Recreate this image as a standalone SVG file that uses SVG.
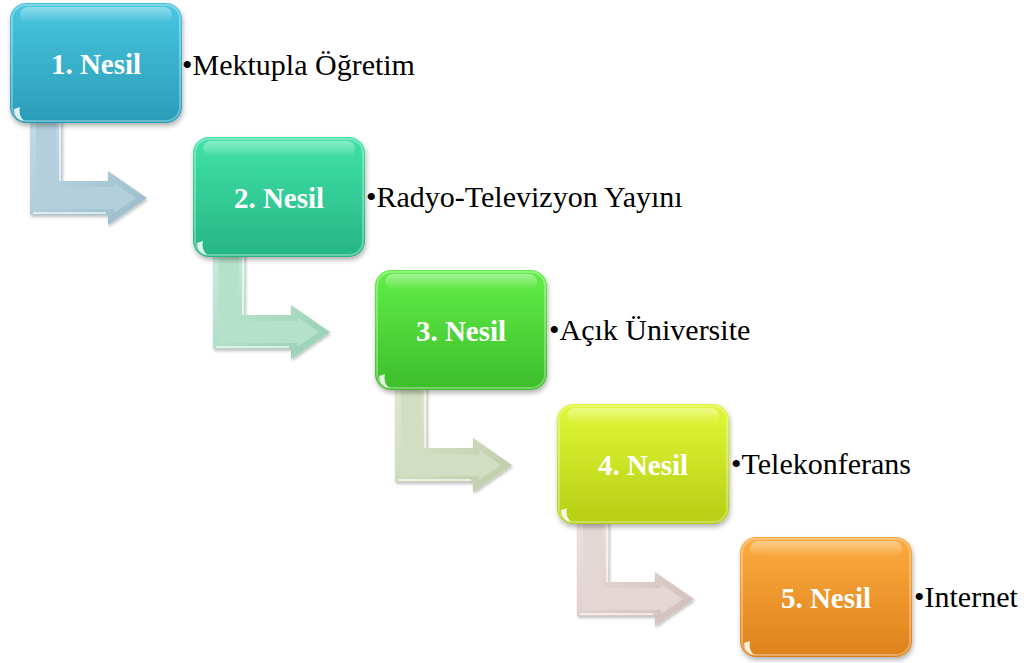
<svg xmlns="http://www.w3.org/2000/svg" width="1029" height="663" viewBox="0 0 1029 663">
  <style>
    .lbl { font-family: "Liberation Serif", "Times New Roman", serif; font-weight: bold; font-size: 29px; fill: #ffffff; text-anchor: middle; }
    .item { font-family: "Liberation Serif", "Times New Roman", serif; font-size: 30px; fill: #000000; }
    .gloss { fill: url(#gloss); }
    .rim { fill: none; stroke: #ffffff; stroke-opacity: 0.3; stroke-width: 2; }
    .glint { fill: #ffffff; opacity: 0.85; }
    .hl { stroke: #ffffff; stroke-width: 1.6; stroke-opacity: 0.8; fill: none; }
  </style>
  <defs>
    <filter id="shadow" x="-10%" y="-10%" width="125%" height="130%">
      <feDropShadow dx="1" dy="3" stdDeviation="2.5" flood-color="#000000" flood-opacity="0.3"/>
    </filter>
    <filter id="ashadow" x="-10%" y="-10%" width="125%" height="130%">
      <feDropShadow dx="1" dy="2" stdDeviation="1.5" flood-color="#000000" flood-opacity="0.25"/>
    </filter>
    <linearGradient id="gloss" x1="0" y1="0" x2="0" y2="1">
      <stop offset="0" stop-color="#ffffff" stop-opacity="0.4"/>
      <stop offset="1" stop-color="#ffffff" stop-opacity="0"/>
    </linearGradient>
    <linearGradient id="n1" x1="0" y1="0" x2="0" y2="1">
      <stop offset="0" stop-color="#48c6df"/>
      <stop offset="1" stop-color="#2b9cb8"/>
    </linearGradient>
    <linearGradient id="n2" x1="0" y1="0" x2="0" y2="1">
      <stop offset="0" stop-color="#40e2a8"/>
      <stop offset="1" stop-color="#26b584"/>
    </linearGradient>
    <linearGradient id="n3" x1="0" y1="0" x2="0" y2="1">
      <stop offset="0" stop-color="#62ee48"/>
      <stop offset="1" stop-color="#3cbe2a"/>
    </linearGradient>
    <linearGradient id="n4" x1="0" y1="0" x2="0" y2="1">
      <stop offset="0" stop-color="#e0f836"/>
      <stop offset="1" stop-color="#b6ce14"/>
    </linearGradient>
    <linearGradient id="n5" x1="0" y1="0" x2="0" y2="1">
      <stop offset="0" stop-color="#fbab3e"/>
      <stop offset="1" stop-color="#de821c"/>
    </linearGradient>
    <linearGradient id="a1" x1="0" y1="0" x2="1" y2="1">
      <stop offset="0" stop-color="#c4dce6"/>
      <stop offset="1" stop-color="#98bccb"/>
    </linearGradient>
    <linearGradient id="a2" x1="0" y1="0" x2="1" y2="1">
      <stop offset="0" stop-color="#c8ecd9"/>
      <stop offset="1" stop-color="#95ceb0"/>
    </linearGradient>
    <linearGradient id="a3" x1="0" y1="0" x2="1" y2="1">
      <stop offset="0" stop-color="#e0e9d2"/>
      <stop offset="1" stop-color="#bccca6"/>
    </linearGradient>
    <linearGradient id="a4" x1="0" y1="0" x2="1" y2="1">
      <stop offset="0" stop-color="#eee2df"/>
      <stop offset="1" stop-color="#cfbcb8"/>
    </linearGradient>
    <!-- bent arrow, origin at the top-left of the node above it -->
    <path id="bend" d="M20,116 L52,116 L52,178 L98,178 L98,168 L137,195 L98,222 L98,212 L20,212 Z"/>
    <path id="bendIn" d="M26,116 L46,116 L46,184 L104,184 L104,180 L126,195 L104,210 L104,206 L26,206 Z"/>
  </defs>

  <!-- connectors -->
  <g id="connectors">
    <g transform="translate(10,3)">
      <use href="#bend" fill="url(#a1)" filter="url(#ashadow)"/>
      <use href="#bendIn" fill="#b2cfdb"/>
      <path class="hl" d="M23,210 L96,210 M50,118 L50,178"/>
    </g>
    <g transform="translate(193,137)">
      <use href="#bend" fill="url(#a2)" filter="url(#ashadow)"/>
      <use href="#bendIn" fill="#b5e0c9"/>
      <path class="hl" d="M23,210 L96,210 M50,118 L50,178"/>
    </g>
    <g transform="translate(375,270)">
      <use href="#bend" fill="url(#a3)" filter="url(#ashadow)"/>
      <use href="#bendIn" fill="#d2dec1"/>
      <path class="hl" d="M23,210 L96,210 M50,118 L50,178"/>
    </g>
    <g transform="translate(557,404)">
      <use href="#bend" fill="url(#a4)" filter="url(#ashadow)"/>
      <use href="#bendIn" fill="#e4d7d3"/>
      <path class="hl" d="M23,210 L96,210 M50,118 L50,178"/>
    </g>
  </g>

  <!-- nodes -->
  <g id="node1" transform="translate(10,3)">
    <rect width="172" height="120" rx="16" fill="url(#n1)" filter="url(#shadow)"/>
    <rect x="2" y="2" width="168" height="116" rx="14" class="rim"/>
    <rect x="10" y="4" width="152" height="16" rx="8" class="gloss"/>
    <path class="glint" d="M4,106 Q4,116 14,118 Q8,112 10,104 Z"/>
    <text class="lbl" x="86" y="71">1. Nesil</text>
  </g>
  <text class="item" x="182" y="75">•Mektupla Öğretim</text>

  <g id="node2" transform="translate(193,137)">
    <rect width="172" height="120" rx="16" fill="url(#n2)" filter="url(#shadow)"/>
    <rect x="2" y="2" width="168" height="116" rx="14" class="rim"/>
    <rect x="10" y="4" width="152" height="16" rx="8" class="gloss"/>
    <path class="glint" d="M4,106 Q4,116 14,118 Q8,112 10,104 Z"/>
    <text class="lbl" x="86" y="71">2. Nesil</text>
  </g>
  <text class="item" x="366" y="207">•Radyo-Televizyon Yayını</text>

  <g id="node3" transform="translate(375,270)">
    <rect width="172" height="120" rx="16" fill="url(#n3)" filter="url(#shadow)"/>
    <rect x="2" y="2" width="168" height="116" rx="14" class="rim"/>
    <rect x="10" y="4" width="152" height="16" rx="8" class="gloss"/>
    <path class="glint" d="M4,106 Q4,116 14,118 Q8,112 10,104 Z"/>
    <text class="lbl" x="86" y="71">3. Nesil</text>
  </g>
  <text class="item" x="549" y="340">•Açık Üniversite</text>

  <g id="node4" transform="translate(557,404)">
    <rect width="172" height="120" rx="16" fill="url(#n4)" filter="url(#shadow)"/>
    <rect x="2" y="2" width="168" height="116" rx="14" class="rim"/>
    <rect x="10" y="4" width="152" height="16" rx="8" class="gloss"/>
    <path class="glint" d="M4,106 Q4,116 14,118 Q8,112 10,104 Z"/>
    <text class="lbl" x="86" y="71">4. Nesil</text>
  </g>
  <text class="item" x="731" y="474">•Telekonferans</text>

  <g id="node5" transform="translate(740,537)">
    <rect width="172" height="120" rx="16" fill="url(#n5)" filter="url(#shadow)"/>
    <rect x="2" y="2" width="168" height="116" rx="14" class="rim"/>
    <rect x="10" y="4" width="152" height="16" rx="8" class="gloss"/>
    <path class="glint" d="M4,106 Q4,116 14,118 Q8,112 10,104 Z"/>
    <text class="lbl" x="86" y="71">5. Nesil</text>
  </g>
  <text class="item" x="914" y="607">•Internet</text>
</svg>
